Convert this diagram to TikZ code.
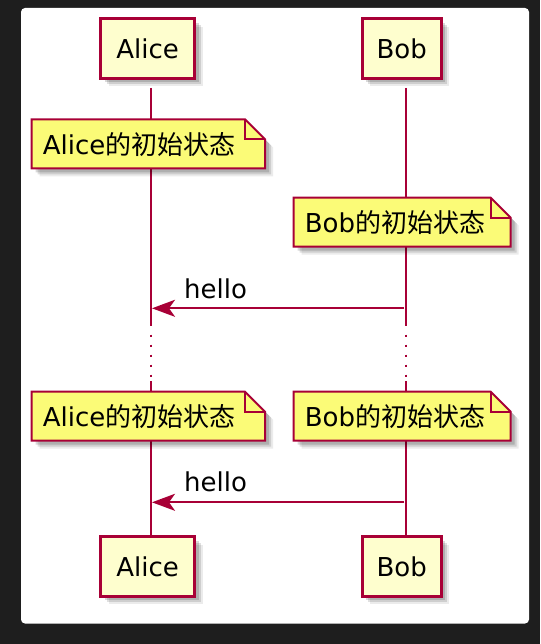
\documentclass[tikz,border=0pt]{standalone}
\usepackage{fontspec}
\setmainfont{DejaVu Sans}
\newfontfamily\cjk{Noto Sans CJK SC}
\usetikzlibrary{arrows.meta,shadows}
\definecolor{umlred}{HTML}{A80036}
\definecolor{umlbox}{HTML}{FEFECE}
\definecolor{umlnote}{HTML}{FBFB77}
\definecolor{umlbg}{HTML}{1E1E1E}
\tikzset{
  softshadow/.style={
    drop shadow={shadow xshift=8pt,shadow yshift=-8pt,opacity=0.08,fill=black},
    drop shadow={shadow xshift=6pt,shadow yshift=-6pt,opacity=0.12,fill=black},
    drop shadow={shadow xshift=4pt,shadow yshift=-4pt,opacity=0.15,fill=black}},
}

\begin{document}
\begin{tikzpicture}[x=1pt,y=-1pt,font=\fontsize{26}{31}\selectfont,
  participant/.style={rectangle,draw=umlred,fill=umlbox,line width=3pt,inner sep=0,softshadow},
  note/.style={draw=umlred,fill=umlnote,line width=2pt,softshadow},
  fold/.style={draw=umlred,line width=2pt},
  notetext/.style={anchor=base west,inner sep=0},
  lifeline/.style={draw=umlred,line width=2pt},
  msg/.style={draw=umlred,line width=2pt,-{Stealth[length=23pt,width=17pt,inset=6pt]}},
  msglabel/.style={anchor=base west,inner sep=0}]
% page and panel
\fill[umlbg] (0,0) rectangle (540,644);
\fill[white,rounded corners=4pt] (21,8) rectangle (529,623.5);
% lifelines, with the break
\foreach \lx in {151,406} {
  \draw[lifeline] (\lx,88) -- (\lx,326);
  \draw[lifeline,dash pattern=on 2pt off 8pt] (\lx,334.7) -- (\lx,377);
  \draw[lifeline] (\lx,381) -- (\lx,535);
}
% notes
\foreach \nn/\nx/\ny/\nw/\who in {aliceNoteA/31.7/119.3/233.3/Alice,bobNoteA/293.7/197.7/217/Bob,aliceNoteB/31.7/391.7/233.3/Alice,bobNoteB/293.7/391.7/217/Bob} {
  \draw[note] (\nx,\ny) -- ++(\nw-20,0) -- ++(20,20) -- ++(0,29) -- ++(-\nw,0) -- cycle;
  \draw[fold] (\nx+\nw-20,\ny) -- ++(0,20) -- ++(20,0);
  \node[notetext] (\nn) at (\nx+11,\ny+34.8) {\who{\cjk 的初始状态}};
}
% messages
\coordinate (bobM1) at (404,308.3);
\coordinate (aliceM1) at (152,308.3);
\coordinate (bobM2) at (404,502.3);
\coordinate (aliceM2) at (152,502.3);
\draw[msg] (bobM1) -- (aliceM1);
\node[msglabel] (helloA) at ([xshift=32pt,yshift=10.3pt]aliceM1) {hello};
\draw[msg] (bobM2) -- (aliceM2);
\node[msglabel] (helloB) at ([xshift=32pt,yshift=10.6pt]aliceM2) {hello};
% participants
\node[participant,minimum width=93.7pt,minimum height=59.4pt] (aliceTop) at (147.7,48.5) {Alice};
\node[participant,minimum width=79pt,minimum height=59.4pt] (bobTop) at (401.7,48.5) {Bob};
\node[participant,minimum width=93.7pt,minimum height=59.4pt] (aliceBot) at (147.7,566.4) {Alice};
\node[participant,minimum width=79pt,minimum height=59.4pt] (bobBot) at (401.7,566.4) {Bob};
\end{tikzpicture}
\end{document}
